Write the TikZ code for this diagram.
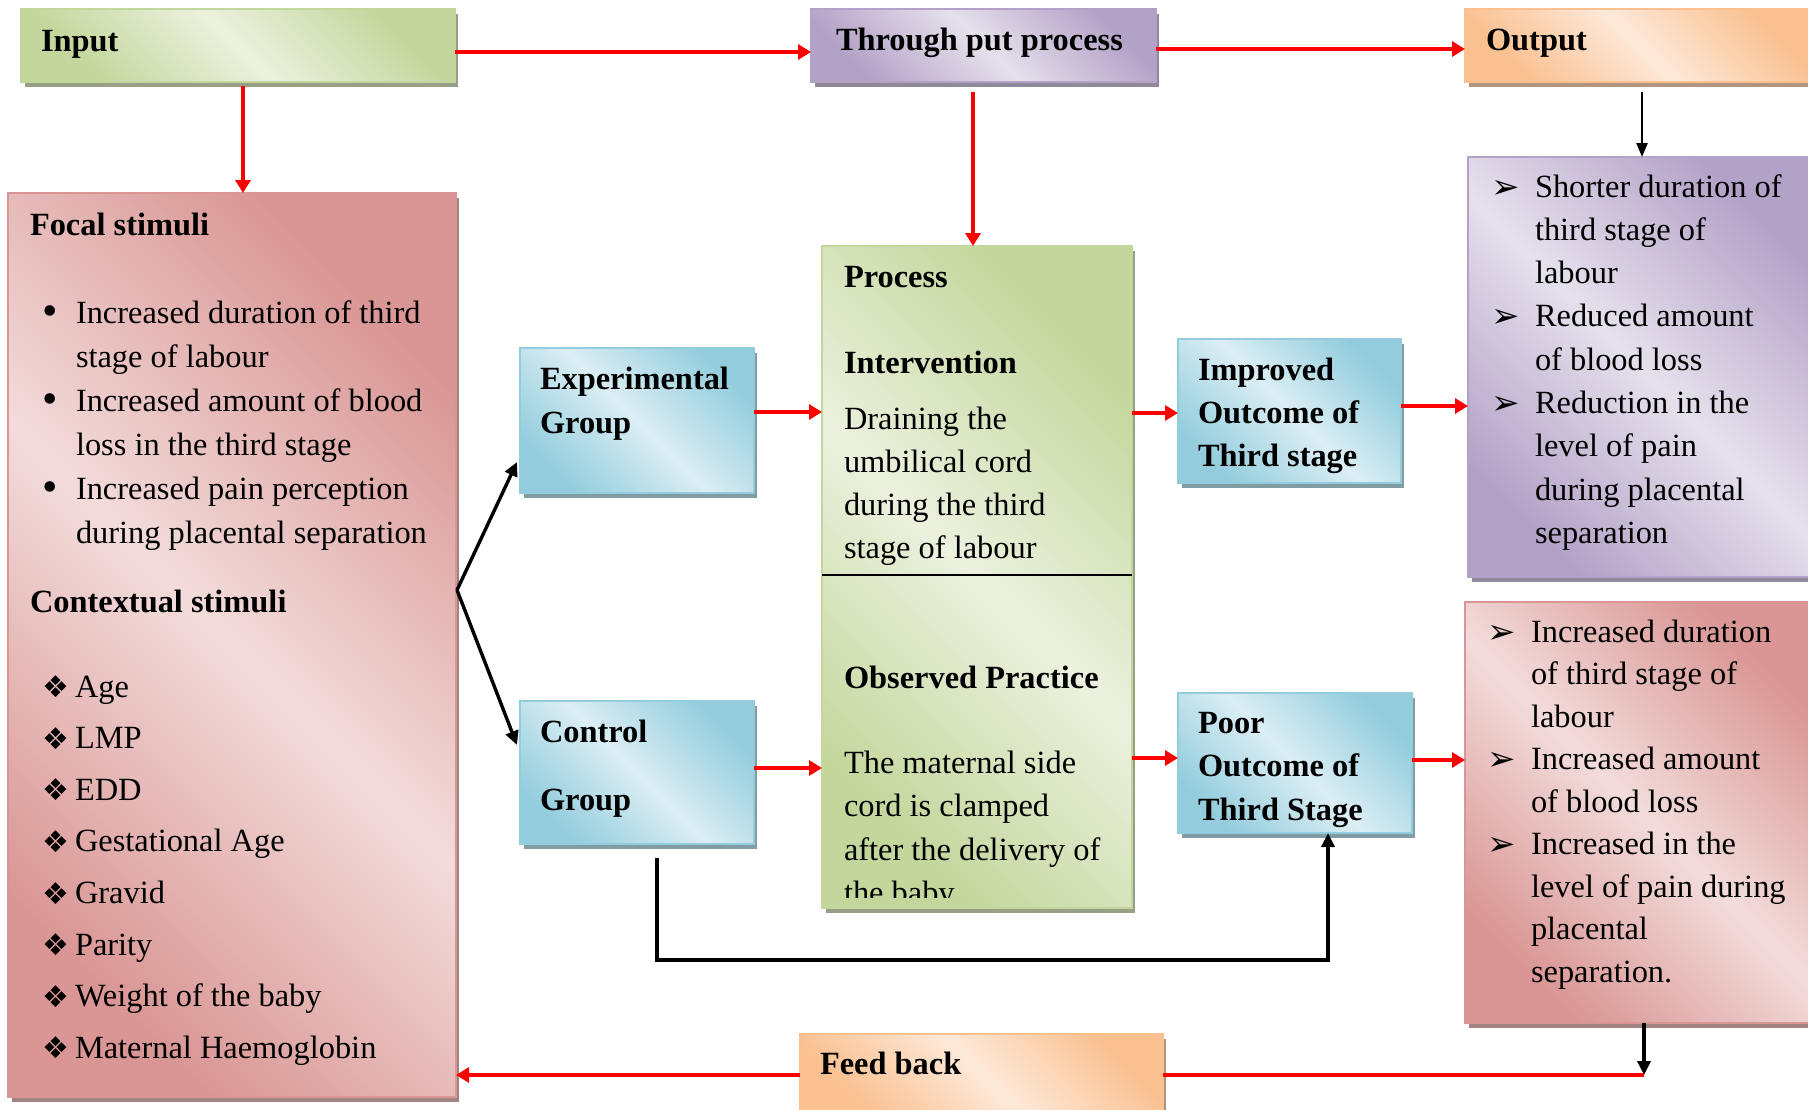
\documentclass[tikz,border=0pt]{standalone}
\usepackage{fontspec}
\setmainfont{Liberation Serif}
\newfontfamily\symfont{DejaVu Sans}
\usetikzlibrary{arrows.meta,calc}
\definecolor{gD}{HTML}{C3D69B}\definecolor{gL}{HTML}{EBF1DE}
\definecolor{pD}{HTML}{B3A2C7}\definecolor{pL}{HTML}{E6E0EC}
\definecolor{oD}{HTML}{FAC090}\definecolor{oL}{HTML}{FDE9D9}
\definecolor{bD}{HTML}{93CDDD}\definecolor{bL}{HTML}{DBEEF4}
\definecolor{rD}{HTML}{D99694}\definecolor{rL}{HTML}{F2DCDB}
\newcommand\bodyfont{\fontsize{16.2}{21.6}\selectfont}
\newcommand\dmd{\makebox[16.5pt][l]{\raisebox{-0.3pt}{\symfont\fontsize{15}{15}\selectfont ❖}}}
\newcommand\arw{\makebox[22pt][l]{\raisebox{-0.5pt}{\symfont\fontsize{17}{17}\selectfont ➢}}}
\newcommand\bul{\makebox[17pt][l]{\raisebox{-1pt}{\fontsize{22}{22}\selectfont •}}}
\newcommand\indA{\hspace*{17pt}}
\newcommand\indB{\hspace*{22pt}}
\newcommand\mkbox[7]{%
  \fill[#2!60!black!75!white] (#4+4,#5+5) rectangle (#6+3,#7+5);
  \node[inner sep=0pt, outer sep=0pt, anchor=north west, draw=#2, line width=1pt,
        top color=#2, bottom color=#2, middle color=#3, shading angle=-45,
        minimum width={(#6-#4)*0.5pt}, minimum height={(#7-#5)*0.5pt}] (#1) at (#4,#5) {};}
\tikzset{
  txt/.style={inner sep=0pt, outer sep=0pt, font=\bodyfont, anchor=base west},
  ra/.style={draw=red, line width=1.8pt, -{Triangle[length=6.5pt,width=7.5pt]}},
  rl/.style={draw=red, line width=1.8pt},
  ba/.style={draw=black, line width=1.7pt, -{Triangle[length=7pt,width=6.5pt]}},
  bthin/.style={draw=black, line width=1.2pt, -{Triangle[length=7pt,width=5.5pt]}}
}
\begin{document}
\begin{tikzpicture}[x=0.5pt,y=-0.5pt]
\clip (0,0) rectangle (1808,1109);
\fill[white] (0,0) rectangle (1808,1109);
% boxes
\mkbox{input}{gD}{gL}{21}{9}{455}{82}
\mkbox{thru}{pD}{pL}{811}{9}{1156}{82}
\mkbox{output}{oD}{oL}{1465}{9}{1815}{82}
\mkbox{focal}{rD}{rL}{8}{193}{456}{1097}
\mkbox{exp}{bD}{bL}{520}{348}{754}{493}
\mkbox{process}{gD}{gL}{822}{246}{1132}{908}
\mkbox{improved}{bD}{bL}{1178}{339}{1401}{483}
\mkbox{outpos}{pD}{pL}{1468}{157}{1815}{577}
\mkbox{ctrl}{bD}{bL}{520}{701}{754}{844}
\mkbox{poor}{bD}{bL}{1178}{693}{1412}{833}
\mkbox{outneg}{rD}{rL}{1465}{602}{1815}{1023}
\mkbox{feedback}{oD}{oL}{800}{1034}{1163}{1112}
\draw[line width=0.9pt] (process.west |- 0,575) -- (process.east |- 0,575);
% texts
\node[txt] (tIn) at (41,51) {\textbf{Input}};
\node[txt] (tThru) at (836,50) {\textbf{Through put process}};
\node[txt] (tOut) at (1486,50) {\textbf{Output}};
\node[txt] (tFb) at (820,1074) {\textbf{Feed back}};
\node[txt] (tFoc) at (30,235) {\textbf{Focal stimuli}};
\node[txt] (tFocL) at (42,323) {\parbox[t]{250pt}{\baselineskip=22pt
  \bul Increased duration of third\\\indA stage of labour\\
  \bul Increased amount of blood\\\indA loss in the third stage\\
  \bul Increased pain perception\\\indA during placental separation}};
\node[txt] (tCon) at (30,612) {\textbf{Contextual stimuli}};
\node[txt] (tConL) at (42,697) {\parbox[t]{250pt}{\baselineskip=25.8pt
  \dmd Age\\\dmd LMP\\\dmd EDD\\\dmd Gestational Age\\\dmd Gravid\\\dmd Parity\\
  \dmd Weight of the baby\\\dmd Maternal Haemoglobin}};
\node[txt] (tExp) at (540,389) {\parbox[t]{120pt}{\bfseries\baselineskip=22pt Experimental\\Group}};
\node[txt] (tCtrl) at (540,742) {\parbox[t]{120pt}{\bfseries\baselineskip=34pt Control\\Group}};
\node[txt] (tProc) at (844,287) {\textbf{Process}};
\node[txt] (tInt) at (844,373) {\textbf{Intervention}};
\node[txt] (tDrain) at (844,429) {\parbox[t]{150pt}{\baselineskip=21.5pt
  Draining the\\umbilical cord\\during the third\\stage of labour}};
\node[txt] (tObs) at (844,688) {\textbf{Observed Practice}};
\begin{scope}
\clip (822,246) rectangle (1132,897);
\node[txt] (tMat) at (844,773) {\parbox[t]{150pt}{\baselineskip=21.75pt
  The maternal side\\cord is clamped\\after the delivery of\\the baby}};
\end{scope}
\node[txt] (tImp) at (1198,380) {\parbox[t]{110pt}{\bfseries\baselineskip=21.5pt Improved\\Outcome of\\Third stage}};
\node[txt] (tPoor) at (1198,733) {\parbox[t]{110pt}{\bfseries\baselineskip=21.75pt Poor\\Outcome of\\Third Stage}};
\node[txt] (tPos) at (1491,197) {\parbox[t]{170pt}{\baselineskip=21.65pt
  \arw Shorter duration of\\\indB third stage of\\\indB labour\\
  \arw Reduced amount\\\indB of blood loss\\
  \arw Reduction in the\\\indB level of pain\\\indB during placental\\\indB separation}};
\node[txt] (tNeg) at (1487,642) {\parbox[t]{170pt}{\baselineskip=21.25pt
  \arw Increased duration\\\indB of third stage of\\\indB labour\\
  \arw Increased amount\\\indB of blood loss\\
  \arw Increased in the\\\indB level of pain during\\\indB placental\\\indB separation.}};
% connectors
\draw[ra] (input.east |- 0,52) -- (thru.west |- 0,52);
\draw[ra] (thru.east |- 0,49) -- (output.west |- 0,49);
\draw[ra] ($(input.south -| 243,0)+(0,4)$) -- (focal.north -| 243,0);
\draw[ra] ($(thru.south -| 973,0)+(0,10)$) -- (process.north -| 973,0);
\draw[bthin] ($(output.south -| 1642,0)+(0,10)$) -- (outpos.north -| 1642,0);
\coordinate (fork) at (457,590);
\draw[ba] (fork) -- ($(exp.west |- 0,462)+(-3,0)$);
\draw[ba] (fork) -- ($(ctrl.west |- 0,745)+(-3,0)$);
\draw[ra] (exp.east |- 0,412) -- (process.west |- 0,412);
\draw[ra] (ctrl.east |- 0,768) -- (process.west |- 0,768);
\draw[ra] (process.east |- 0,413) -- (improved.west |- 0,413);
\draw[ra] (process.east |- 0,758) -- (poor.west |- 0,758);
\draw[ra] (improved.east |- 0,406) -- (outpos.west |- 0,406);
\draw[ra] (poor.east |- 0,760) -- (outneg.west |- 0,760);
\coordinate (cstart) at ($(ctrl.south -| 657,0)+(0,14)$);
\coordinate (cbot) at (0,960);
\draw[ba] (cstart) -- (cstart |- cbot) -| (poor.south -| 1328,0);
\coordinate (fbj) at (1644,1075);
\draw[ba] (outneg.south -| fbj) -- (fbj);
\draw[rl] (fbj) -- (feedback.east |- fbj);
\draw[ra] (feedback.west |- fbj) -- (focal.east |- fbj);
\end{tikzpicture}
\end{document}
